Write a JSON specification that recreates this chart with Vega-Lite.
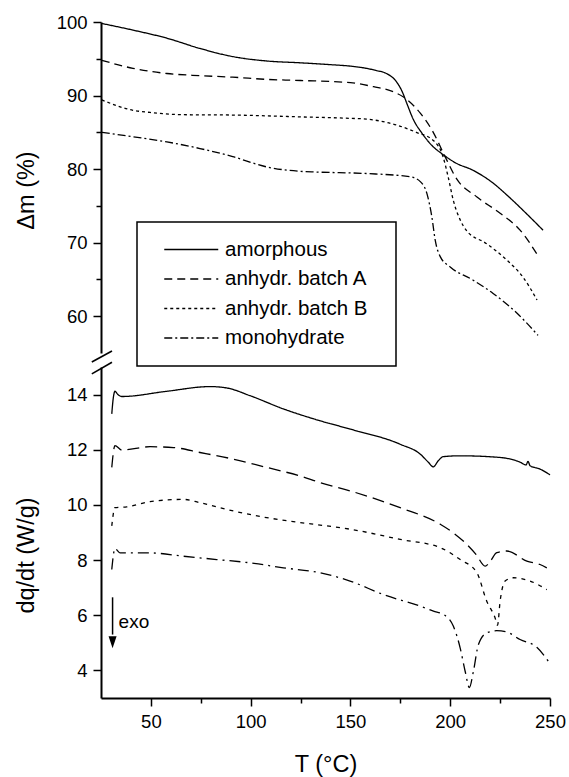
{
  "$schema": "https://vega.github.io/schema/vega-lite/v6.json",
  "padding": {"left": 14, "top": 13, "right": 5, "bottom": 3},
  "background": "white",
  "config": {
    "font": "Liberation Sans",
    "view": {"stroke": null},
    "axis": {"domainColor": "#000", "domainWidth": 2, "tickColor": "#000", "tickWidth": 1.5, "labelColor": "#000", "titleColor": "#000", "labelFontSize": 18.5, "titleFontSize": 23.5, "titleFontWeight": "normal", "grid": false, "labelFlush": false, "labelOverlap": false},
    "legend": {"strokeWidth": 1.5}
  },
  "datasets": {
    "tga": [
      {"series": "amorphous", "T": 25.4, "dm": 99.8}, {"series": "amorphous", "T": 41, "dm": 98.9}, {"series": "amorphous", "T": 58, "dm": 97.8}, {"series": "amorphous", "T": 74.6, "dm": 96.4}, {"series": "amorphous", "T": 91, "dm": 95.3}, {"series": "amorphous", "T": 108, "dm": 94.7}, {"series": "amorphous", "T": 125, "dm": 94.45}, {"series": "amorphous", "T": 140, "dm": 94.2}, {"series": "amorphous", "T": 150, "dm": 94.0}, {"series": "amorphous", "T": 158, "dm": 93.7}, {"series": "amorphous", "T": 163, "dm": 93.4}, {"series": "amorphous", "T": 168, "dm": 93.0}, {"series": "amorphous", "T": 173, "dm": 91.9}, {"series": "amorphous", "T": 176, "dm": 90.5}, {"series": "amorphous", "T": 178.3, "dm": 88.9}, {"series": "amorphous", "T": 181.6, "dm": 86.7}, {"series": "amorphous", "T": 185.8, "dm": 84.9}, {"series": "amorphous", "T": 191.6, "dm": 83.0}, {"series": "amorphous", "T": 195.8, "dm": 82.1}, {"series": "amorphous", "T": 203, "dm": 80.8}, {"series": "amorphous", "T": 211, "dm": 79.9}, {"series": "amorphous", "T": 221, "dm": 78.2}, {"series": "amorphous", "T": 229.5, "dm": 76.2}, {"series": "amorphous", "T": 238, "dm": 74.0}, {"series": "amorphous", "T": 246.5, "dm": 71.7},
      {"series": "anhydr. batch A", "T": 25.4, "dm": 94.8}, {"series": "anhydr. batch A", "T": 41, "dm": 93.7}, {"series": "anhydr. batch A", "T": 58, "dm": 93.0}, {"series": "anhydr. batch A", "T": 74.6, "dm": 92.7}, {"series": "anhydr. batch A", "T": 91, "dm": 92.5}, {"series": "anhydr. batch A", "T": 108, "dm": 92.2}, {"series": "anhydr. batch A", "T": 125, "dm": 92.05}, {"series": "anhydr. batch A", "T": 150, "dm": 91.75}, {"series": "anhydr. batch A", "T": 161.6, "dm": 91.2}, {"series": "anhydr. batch A", "T": 171.6, "dm": 90.5}, {"series": "anhydr. batch A", "T": 176.6, "dm": 89.8}, {"series": "anhydr. batch A", "T": 185, "dm": 87.6}, {"series": "anhydr. batch A", "T": 191.7, "dm": 84.9}, {"series": "anhydr. batch A", "T": 196.7, "dm": 82.1}, {"series": "anhydr. batch A", "T": 203.4, "dm": 78.6}, {"series": "anhydr. batch A", "T": 213.4, "dm": 76.2}, {"series": "anhydr. batch A", "T": 225, "dm": 74.0}, {"series": "anhydr. batch A", "T": 235, "dm": 71.7}, {"series": "anhydr. batch A", "T": 244.3, "dm": 68.1},
      {"series": "anhydr. batch B", "T": 25.4, "dm": 89.4}, {"series": "anhydr. batch B", "T": 41, "dm": 88.0}, {"series": "anhydr. batch B", "T": 49.6, "dm": 87.7}, {"series": "anhydr. batch B", "T": 66, "dm": 87.4}, {"series": "anhydr. batch B", "T": 91, "dm": 87.35}, {"series": "anhydr. batch B", "T": 125, "dm": 87.1}, {"series": "anhydr. batch B", "T": 150, "dm": 86.9}, {"series": "anhydr. batch B", "T": 158, "dm": 86.8}, {"series": "anhydr. batch B", "T": 173, "dm": 86.0}, {"series": "anhydr. batch B", "T": 183, "dm": 85.0}, {"series": "anhydr. batch B", "T": 191.5, "dm": 83.9}, {"series": "anhydr. batch B", "T": 196.5, "dm": 81.6}, {"series": "anhydr. batch B", "T": 199, "dm": 78.9}, {"series": "anhydr. batch B", "T": 201.5, "dm": 75.8}, {"series": "anhydr. batch B", "T": 205, "dm": 73.1}, {"series": "anhydr. batch B", "T": 208, "dm": 71.7}, {"series": "anhydr. batch B", "T": 218, "dm": 69.9}, {"series": "anhydr. batch B", "T": 228.5, "dm": 67.6}, {"series": "anhydr. batch B", "T": 236.5, "dm": 65.3}, {"series": "anhydr. batch B", "T": 243.5, "dm": 62.2},
      {"series": "monohydrate", "T": 25.4, "dm": 85.0}, {"series": "monohydrate", "T": 41, "dm": 84.4}, {"series": "monohydrate", "T": 58, "dm": 83.7}, {"series": "monohydrate", "T": 74.6, "dm": 82.8}, {"series": "monohydrate", "T": 91, "dm": 81.7}, {"series": "monohydrate", "T": 108, "dm": 80.3}, {"series": "monohydrate", "T": 124.7, "dm": 79.7}, {"series": "monohydrate", "T": 133, "dm": 79.6}, {"series": "monohydrate", "T": 158, "dm": 79.4}, {"series": "monohydrate", "T": 180, "dm": 78.95}, {"series": "monohydrate", "T": 185, "dm": 78.3}, {"series": "monohydrate", "T": 188.3, "dm": 76.7}, {"series": "monohydrate", "T": 190.8, "dm": 73.5}, {"series": "monohydrate", "T": 192.5, "dm": 70.3}, {"series": "monohydrate", "T": 195, "dm": 68.1}, {"series": "monohydrate", "T": 200, "dm": 66.7}, {"series": "monohydrate", "T": 211.5, "dm": 64.9}, {"series": "monohydrate", "T": 221.5, "dm": 63.1}, {"series": "monohydrate", "T": 233.5, "dm": 60.4}, {"series": "monohydrate", "T": 244, "dm": 57.4}
    ],
    "dsc": [
      {"series": "amorphous", "T": 30.4, "dq": 13.3}, {"series": "amorphous", "T": 31.2, "dq": 13.9}, {"series": "amorphous", "T": 32, "dq": 14.12}, {"series": "amorphous", "T": 33.5, "dq": 14.0}, {"series": "amorphous", "T": 35.4, "dq": 13.93}, {"series": "amorphous", "T": 58, "dq": 14.12}, {"series": "amorphous", "T": 79.6, "dq": 14.29}, {"series": "amorphous", "T": 88, "dq": 14.24}, {"series": "amorphous", "T": 99.7, "dq": 13.96}, {"series": "amorphous", "T": 116.4, "dq": 13.48}, {"series": "amorphous", "T": 134.8, "dq": 13.05}, {"series": "amorphous", "T": 149.8, "dq": 12.75}, {"series": "amorphous", "T": 174.9, "dq": 12.2}, {"series": "amorphous", "T": 185, "dq": 11.84}, {"series": "amorphous", "T": 189, "dq": 11.55}, {"series": "amorphous", "T": 191.5, "dq": 11.38}, {"series": "amorphous", "T": 194, "dq": 11.6}, {"series": "amorphous", "T": 196.5, "dq": 11.75}, {"series": "amorphous", "T": 205, "dq": 11.78}, {"series": "amorphous", "T": 225, "dq": 11.72}, {"series": "amorphous", "T": 235, "dq": 11.55}, {"series": "amorphous", "T": 238, "dq": 11.45}, {"series": "amorphous", "T": 239, "dq": 11.58}, {"series": "amorphous", "T": 240, "dq": 11.42}, {"series": "amorphous", "T": 245, "dq": 11.3}, {"series": "amorphous", "T": 250, "dq": 11.09},
      {"series": "anhydr. batch A", "T": 30.4, "dq": 11.36}, {"series": "anhydr. batch A", "T": 32, "dq": 12.15}, {"series": "anhydr. batch A", "T": 35.4, "dq": 11.99}, {"series": "anhydr. batch A", "T": 49.6, "dq": 12.11}, {"series": "anhydr. batch A", "T": 61.3, "dq": 12.08}, {"series": "anhydr. batch A", "T": 74.6, "dq": 11.9}, {"series": "anhydr. batch A", "T": 91.3, "dq": 11.66}, {"series": "anhydr. batch A", "T": 108, "dq": 11.36}, {"series": "anhydr. batch A", "T": 124.7, "dq": 11.05}, {"series": "anhydr. batch A", "T": 134.8, "dq": 10.81}, {"series": "anhydr. batch A", "T": 149.8, "dq": 10.51}, {"series": "anhydr. batch A", "T": 174.9, "dq": 9.9}, {"series": "anhydr. batch A", "T": 195, "dq": 9.3}, {"series": "anhydr. batch A", "T": 201.5, "dq": 8.99}, {"series": "anhydr. batch A", "T": 208.3, "dq": 8.57}, {"series": "anhydr. batch A", "T": 213, "dq": 8.2}, {"series": "anhydr. batch A", "T": 217.5, "dq": 7.78}, {"series": "anhydr. batch A", "T": 220, "dq": 7.95}, {"series": "anhydr. batch A", "T": 223.3, "dq": 8.27}, {"series": "anhydr. batch A", "T": 228.4, "dq": 8.33}, {"series": "anhydr. batch A", "T": 238.4, "dq": 7.96}, {"series": "anhydr. batch A", "T": 245, "dq": 7.84}, {"series": "anhydr. batch A", "T": 248.4, "dq": 7.72},
      {"series": "anhydr. batch B", "T": 30.4, "dq": 9.24}, {"series": "anhydr. batch B", "T": 32, "dq": 9.9}, {"series": "anhydr. batch B", "T": 37.9, "dq": 9.93}, {"series": "anhydr. batch B", "T": 49.6, "dq": 10.12}, {"series": "anhydr. batch B", "T": 66.3, "dq": 10.2}, {"series": "anhydr. batch B", "T": 74.6, "dq": 10.08}, {"series": "anhydr. batch B", "T": 91.3, "dq": 9.78}, {"series": "anhydr. batch B", "T": 108, "dq": 9.54}, {"series": "anhydr. batch B", "T": 124.7, "dq": 9.36}, {"series": "anhydr. batch B", "T": 134.8, "dq": 9.27}, {"series": "anhydr. batch B", "T": 149.8, "dq": 9.12}, {"series": "anhydr. batch B", "T": 174.9, "dq": 8.75}, {"series": "anhydr. batch B", "T": 195, "dq": 8.45}, {"series": "anhydr. batch B", "T": 205, "dq": 8.02}, {"series": "anhydr. batch B", "T": 213.3, "dq": 7.55}, {"series": "anhydr. batch B", "T": 218.3, "dq": 6.51}, {"series": "anhydr. batch B", "T": 222.5, "dq": 5.9}, {"series": "anhydr. batch B", "T": 223.7, "dq": 5.64}, {"series": "anhydr. batch B", "T": 225, "dq": 6.51}, {"series": "anhydr. batch B", "T": 227.5, "dq": 7.24}, {"series": "anhydr. batch B", "T": 231.7, "dq": 7.36}, {"series": "anhydr. batch B", "T": 240, "dq": 7.24}, {"series": "anhydr. batch B", "T": 248.4, "dq": 6.93},
      {"series": "monohydrate", "T": 30.4, "dq": 7.66}, {"series": "monohydrate", "T": 32, "dq": 8.42}, {"series": "monohydrate", "T": 34.5, "dq": 8.26}, {"series": "monohydrate", "T": 49.6, "dq": 8.26}, {"series": "monohydrate", "T": 66.3, "dq": 8.14}, {"series": "monohydrate", "T": 83, "dq": 8.02}, {"series": "monohydrate", "T": 99.7, "dq": 7.9}, {"series": "monohydrate", "T": 116.4, "dq": 7.72}, {"series": "monohydrate", "T": 134.8, "dq": 7.54}, {"series": "monohydrate", "T": 149.8, "dq": 7.24}, {"series": "monohydrate", "T": 166.5, "dq": 6.75}, {"series": "monohydrate", "T": 184.9, "dq": 6.33}, {"series": "monohydrate", "T": 191.6, "dq": 6.15}, {"series": "monohydrate", "T": 196.6, "dq": 6.03}, {"series": "monohydrate", "T": 201.6, "dq": 5.6}, {"series": "monohydrate", "T": 205, "dq": 4.81}, {"series": "monohydrate", "T": 207.5, "dq": 3.96}, {"series": "monohydrate", "T": 209.6, "dq": 3.38}, {"series": "monohydrate", "T": 211.6, "dq": 3.96}, {"series": "monohydrate", "T": 214.1, "dq": 4.93}, {"series": "monohydrate", "T": 218.3, "dq": 5.36}, {"series": "monohydrate", "T": 223.3, "dq": 5.44}, {"series": "monohydrate", "T": 228.4, "dq": 5.39}, {"series": "monohydrate", "T": 235, "dq": 5.12}, {"series": "monohydrate", "T": 243.4, "dq": 4.84}, {"series": "monohydrate", "T": 249.2, "dq": 4.33}
    ],
    "breaks": [
      {"panel": "top", "x1": 20.4, "x2": 30.5, "y1": 53.78, "y2": 55.28},
      {"panel": "bottom", "x1": 20.4, "x2": 30.5, "y1": 14.75, "y2": 15.17}
    ],
    "arrow": [{"T": 30.8, "y1": 6.65, "y2": 5.3, "tip": 5.02}],
    "note": [{"T": 33.8, "v": 5.54, "text": "exo"}]
  },
  "spacing": 14,
  "bounds": "flush",
  "resolve": {"scale": {"strokeDash": "independent"}, "legend": {"strokeDash": "independent"}},
  "vconcat": [
    {
      "width": 449,
      "height": 331,
      "layer": [
        {
          "data": {"name": "tga"},
          "mark": {"type": "line", "interpolate": "monotone", "strokeWidth": 1.3, "color": "#000"},
          "encoding": {
            "x": {"field": "T", "type": "quantitative", "scale": {"domain": [25, 250], "nice": false, "zero": false}, "axis": null},
            "y": {"field": "dm", "type": "quantitative", "scale": {"domain": [55, 100], "nice": false, "zero": false},
              "axis": {"title": "Δm (%)", "values": [60, 65, 70, 75, 80, 85, 90, 95, 100], "labelExpr": "datum.value % 10 === 0 ? datum.label : ''", "tickSize": {"condition": {"test": "datum.value % 10 === 0", "value": 8}, "value": 5}, "labelPadding": 6, "titleX": -75, "titleY": 168, "titleBaseline": "middle", "titleAlign": "center", "titleAngle": -90}},
            "strokeDash": {"field": "series", "type": "nominal",
              "scale": {"domain": ["amorphous", "anhydr. batch A", "anhydr. batch B", "monohydrate"], "range": [[1, 0], [8, 5], [3, 3], [8, 3, 2, 3]]},
              "legend": {"orient": "none", "legendX": 36, "legendY": 200, "title": null, "symbolType": "M-3,0H3M20.45,0", "symbolSize": 324, "symbolOffset": 26.75, "symbolStrokeWidth": 1.3, "symbolStrokeColor": "#000", "symbolFillColor": "transparent", "labelFontSize": 20.5, "labelColor": "#000", "labelOffset": 23.5, "labelLimit": 400, "strokeColor": "#000", "padding": 17.25, "rowPadding": 8.5}}
          }
        },
        {
          "data": {"name": "breaks"},
          "transform": [{"filter": "datum.panel == 'top'"}],
          "mark": {"type": "rule", "strokeWidth": 1.6, "color": "#000"},
          "encoding": {
            "x": {"field": "x1", "type": "quantitative"},
            "x2": {"field": "x2"},
            "y": {"field": "y1", "type": "quantitative"},
            "y2": {"field": "y2"}
          }
        }
      ]
    },
    {
      "width": 449,
      "height": 331,
      "layer": [
        {
          "data": {"name": "dsc"},
          "mark": {"type": "line", "interpolate": "monotone", "strokeWidth": 1.3, "color": "#000"},
          "encoding": {
            "x": {"field": "T", "type": "quantitative", "scale": {"domain": [25, 250], "nice": false, "zero": false},
              "axis": {"title": "T (°C)", "values": [50, 75, 100, 125, 150, 175, 200, 225, 250], "labelExpr": "datum.value % 50 === 0 ? datum.label : ''", "tickSize": {"condition": {"test": "datum.value % 50 === 0", "value": 8}, "value": 5}, "labelPadding": 6, "titlePadding": 22}},
            "y": {"field": "dq", "type": "quantitative", "scale": {"domain": [3, 15], "nice": false, "zero": false},
              "axis": {"title": "dq/dt (W/g)", "values": [4, 5, 6, 7, 8, 9, 10, 11, 12, 13, 14], "labelExpr": "datum.value % 2 === 0 ? datum.label : ''", "tickSize": {"condition": {"test": "datum.value % 2 === 0", "value": 8}, "value": 5}, "labelPadding": 6, "titleX": -75, "titleY": 188, "titleBaseline": "middle", "titleAlign": "center", "titleAngle": -90}},
            "strokeDash": {"field": "series", "type": "nominal",
              "scale": {"domain": ["amorphous", "anhydr. batch A", "anhydr. batch B", "monohydrate"], "range": [[1, 0], [12, 6], [4, 5], [11, 5, 2, 5]]},
              "legend": null}
          }
        },
        {
          "data": {"name": "breaks"},
          "transform": [{"filter": "datum.panel == 'bottom'"}],
          "mark": {"type": "rule", "strokeWidth": 1.6, "color": "#000"},
          "encoding": {
            "x": {"field": "x1", "type": "quantitative"},
            "x2": {"field": "x2"},
            "y": {"field": "y1", "type": "quantitative"},
            "y2": {"field": "y2"}
          }
        },
        {
          "data": {"name": "arrow"},
          "mark": {"type": "rule", "strokeWidth": 1.5, "color": "#000"},
          "encoding": {
            "x": {"field": "T", "type": "quantitative"},
            "y": {"field": "y1", "type": "quantitative"},
            "y2": {"field": "y2"}
          }
        },
        {
          "data": {"name": "arrow"},
          "mark": {"type": "point", "shape": "M-0.67,-1L0.67,-1L0,1Z", "filled": true, "opacity": 1, "color": "#000", "size": 144},
          "encoding": {
            "x": {"field": "T", "type": "quantitative"},
            "y": {"field": "tip", "type": "quantitative"}
          }
        },
        {
          "data": {"name": "note"},
          "mark": {"type": "text", "align": "left", "baseline": "alphabetic", "fontSize": 19, "color": "#000"},
          "encoding": {
            "x": {"field": "T", "type": "quantitative"},
            "y": {"field": "v", "type": "quantitative"},
            "text": {"field": "text"}
          }
        }
      ]
    }
  ]
}
